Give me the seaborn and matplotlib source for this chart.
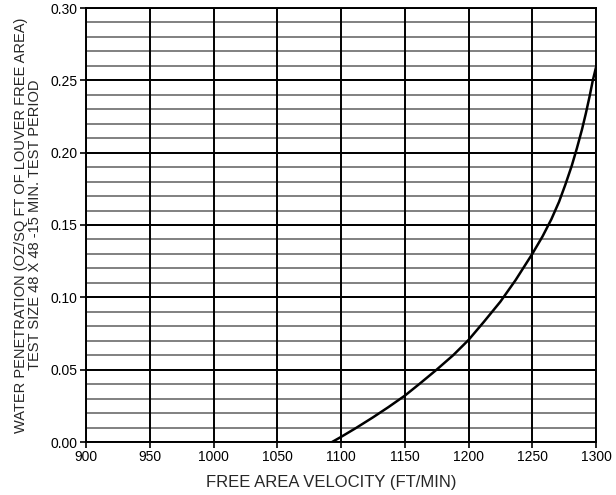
import matplotlib
matplotlib.use("Agg")
import matplotlib.pyplot as plt
import numpy as np
import pandas as pd
import seaborn as sns

# values
velocity = [1093, 1100, 1112, 1125, 1137, 1150, 1162, 1175, 1188, 1200, 1212, 1225, 1237,
            1250, 1258, 1265, 1271, 1276, 1281, 1285, 1289, 1292, 1295, 1297.5, 1300]
penetration = [0.0, 0.0035, 0.0098, 0.017, 0.024, 0.032, 0.0405, 0.050, 0.060, 0.0705, 0.083,
               0.097, 0.112, 0.130, 0.142, 0.154, 0.166, 0.178, 0.191, 0.203, 0.216, 0.227,
               0.239, 0.250, 0.259]

x_ticks = [900, 950, 1000, 1050, 1100, 1150, 1200, 1250, 1300]
y_ticks = [0.00, 0.05, 0.10, 0.15, 0.20, 0.25, 0.30]
y_minor = [v / 100 for v in range(0, 31)]

df = pd.DataFrame({"Velocity": velocity, "Penetration": penetration})

sns.set_style("white")
plt.rcParams["font.family"] = ["Liberation Sans", "DejaVu Sans"]

fig = plt.figure(figsize=(6.16, 4.95), dpi=100)
ax = fig.add_axes([86 / 616, 1 - 442 / 495, 510 / 616, 434 / 495])

for v in y_minor:
    ax.axhline(v, color="#808080", lw=1.4, zorder=1)
for v in y_ticks:
    ax.axhline(v, color="black", lw=1.4, zorder=2)
for v in x_ticks:
    ax.axvline(v, color="black", lw=1.4, zorder=2)

sns.lineplot(data=df, x="Velocity", y="Penetration", color="black", lw=1.8, ax=ax, zorder=3)

ax.set_xlim(900, 1300)
ax.set_ylim(0, 0.30)
ax.set_xticks(x_ticks)
ax.set_yticks(y_ticks)
ax.set_yticklabels([f"{v:.2f}" for v in y_ticks])
ax.tick_params(axis="both", direction="out", length=4, width=1.2, colors="black", labelsize=10, pad=2,
               bottom=True, left=True)
for s in ax.spines.values():
    s.set_color("black")
    s.set_linewidth(1.4)

ax.set_xlabel("FREE AREA VELOCITY (FT/MIN)", fontsize=12)
ax.xaxis.set_label_coords(0.48, -0.075)
ax.set_ylabel("WATER PENETRATION (OZ/SQ FT OF LOUVER FREE AREA)\nTEST SIZE 48 X 48 -15 MIN. TEST PERIOD",
              fontsize=10.5, labelpad=6, linespacing=1.0)

fig.savefig("out.png", dpi=100)
